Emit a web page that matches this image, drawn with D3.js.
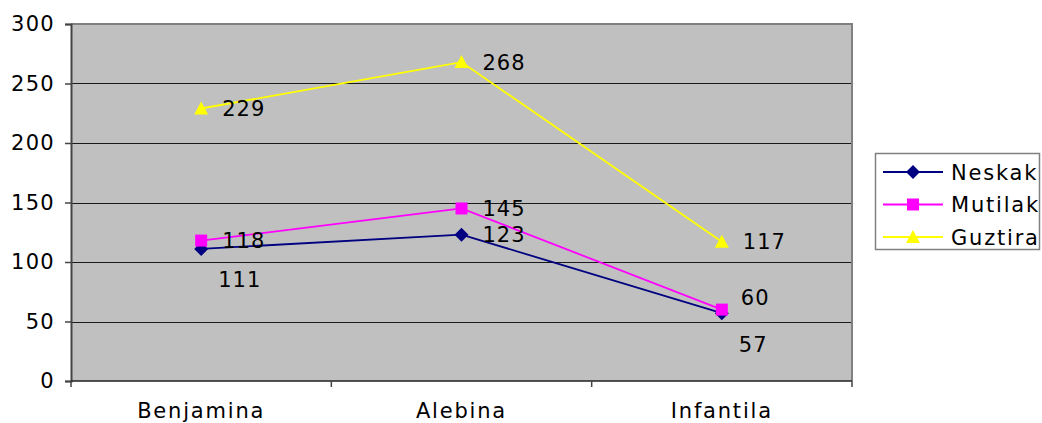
<!DOCTYPE html>
<html>
<head>
<meta charset="utf-8">
<script src="https://cdn.jsdelivr.net/npm/d3@7"></script>
<style>
  html, body { margin: 0; padding: 0; background: #fff; }
  svg { display: block; }
  text { font-family: "DejaVu Sans", Verdana, sans-serif; fill: #000; }
</style>
</head>
<body>
<svg id="chart" width="1042" height="423"></svg>
<script>
// ---- data ----
const categories = ["Benjamina", "Alebina", "Infantila"];
const seriesNames = ["Neskak", "Mutilak", "Guztira"];
const neskak = [111, 123, 57];
const mutilak = [118, 145, 60];
const guztira = [229, 268, 117];
const yTicks = [0, 50, 100, 150, 200, 250, 300];

// ---- styling / layout ----
const colors = ["#000080", "#FF00FF", "#FFFF00"];
const markers = ["diamond", "square", "triangle"];
// label placement: "right" (beside point), "below", "up"
const labelPlace = [
  ["below", "right", "below"],
  ["right", "right", "up"],
  ["right", "right", "right"]
];

const svg = d3.select("#chart");
const m = { left: 71, right: 852, top: 24, bottom: 381 };

const x = d3.scaleBand().domain(categories).range([m.left, m.right]);
const y = d3.scaleLinear().domain([0, 300]).range([m.bottom, m.top]);

// plot background
svg.append("rect")
  .attr("x", m.left).attr("y", m.top)
  .attr("width", m.right - m.left).attr("height", m.bottom - m.top)
  .attr("fill", "#C0C0C0");

// gridlines
svg.append("g").selectAll("line")
  .data(yTicks.filter(d => d > 0 && d < 300))
  .join("line")
  .attr("x1", m.left).attr("x2", m.right)
  .attr("y1", d => Math.round(y(d)) + 0.5).attr("y2", d => Math.round(y(d)) + 0.5)
  .attr("stroke", "#1a1a1a").attr("stroke-width", 1.1);

// top / right border
svg.append("path")
  .attr("d", `M${m.left},${m.top} H${m.right} V${m.bottom}`)
  .attr("fill", "none").attr("stroke", "#808080").attr("stroke-width", 2);

// y axis
const yAxis = d3.axisLeft(y).tickValues(yTicks).tickSize(6).tickPadding(10);
const gy = svg.append("g").attr("transform", `translate(${m.left},0)`).call(yAxis);
gy.select(".domain").attr("stroke", "#444").attr("stroke-width", 2);
gy.selectAll(".tick line").attr("stroke", "#444").attr("stroke-width", 1.5);
gy.selectAll(".tick text")
  .style("font-family", '"DejaVu Sans", Verdana, sans-serif')
  .style("font-size", "21px").style("letter-spacing", "1.3px").attr("fill", "#000");

// x axis (ticks on category boundaries)
const gx = svg.append("g").attr("transform", `translate(0,${m.bottom})`);
gx.append("line").attr("x1", m.left).attr("x2", m.right).attr("y1", 0).attr("y2", 0)
  .attr("stroke", "#222").attr("stroke-width", 1.5);
const bounds = categories.map(c => x(c)).concat([m.right]);
gx.selectAll("line.tk").data(bounds).join("line").attr("class", "tk")
  .attr("x1", d => d).attr("x2", d => d).attr("y1", 0).attr("y2", 6)
  .attr("stroke", "#444").attr("stroke-width", 1.5);
gx.selectAll("text").data(categories).join("text")
  .attr("x", d => x(d) + x.bandwidth() / 2)
  .attr("y", 37)
  .attr("text-anchor", "middle")
  .style("font-size", "21px").style("letter-spacing", "1.8px")
  .text(d => d);

// series
const allSeries = [neskak, mutilak, guztira];
const cx = c => x(c) + x.bandwidth() / 2;

function markerPath(type) {
  if (type === "diamond") return "M0,-7 L7,0 L0,7 L-7,0 Z";
  if (type === "square") return "M-6,-6 H6 V6 H-6 Z";
  return "M0,-7 L7,6 L-7,6 Z";
}

const line = d3.line().x((d, i) => cx(categories[i])).y(d => y(d));

allSeries.forEach((vals, s) => {
  svg.append("path").datum(vals)
    .attr("d", line).attr("fill", "none")
    .attr("stroke", colors[s]).attr("stroke-width", 1.8);
});

allSeries.forEach((vals, s) => {
  svg.append("g").selectAll("path").data(vals).join("path")
    .attr("transform", (d, i) => `translate(${cx(categories[i])},${y(d)})`)
    .attr("d", markerPath(markers[s]))
    .attr("fill", colors[s]);
});

// data labels
allSeries.forEach((vals, s) => {
  svg.append("g").selectAll("text").data(vals).join("text")
    .attr("x", (d, i) => {
      const p = labelPlace[s][i];
      return cx(categories[i]) + (p === "below" ? 17 : (p === "up" ? 19 : 21));
    })
    .attr("y", (d, i) => {
      const p = labelPlace[s][i];
      return y(d) + (p === "below" ? 31 : (p === "up" ? -12 : 0));
    })
    .attr("dy", "0.36em")
    .style("font-size", "21px").style("letter-spacing", "1px")
    .text(d => d);
});

// legend
const lg = svg.append("g");
lg.append("rect").attr("x", 875.5).attr("y", 153.5).attr("width", 164).attr("height", 96)
  .attr("fill", "#fff").attr("stroke", "#808080").attr("stroke-width", 1.5);
const rowY = [172, 204.5, 237];
seriesNames.forEach((name, s) => {
  const g = lg.append("g").attr("transform", `translate(0,${rowY[s]})`);
  g.append("line").attr("x1", 883).attr("x2", 943).attr("y1", 0).attr("y2", 0)
    .attr("stroke", colors[s]).attr("stroke-width", 1.8);
  g.append("path").attr("transform", "translate(913,0)").attr("d", markerPath(markers[s]))
    .attr("fill", colors[s]);
  g.append("text").attr("x", 951).attr("y", 0).attr("dy", "0.36em")
    .style("font-size", "21px").style("letter-spacing", "1.8px").text(name);
});
</script>
</body>
</html>
